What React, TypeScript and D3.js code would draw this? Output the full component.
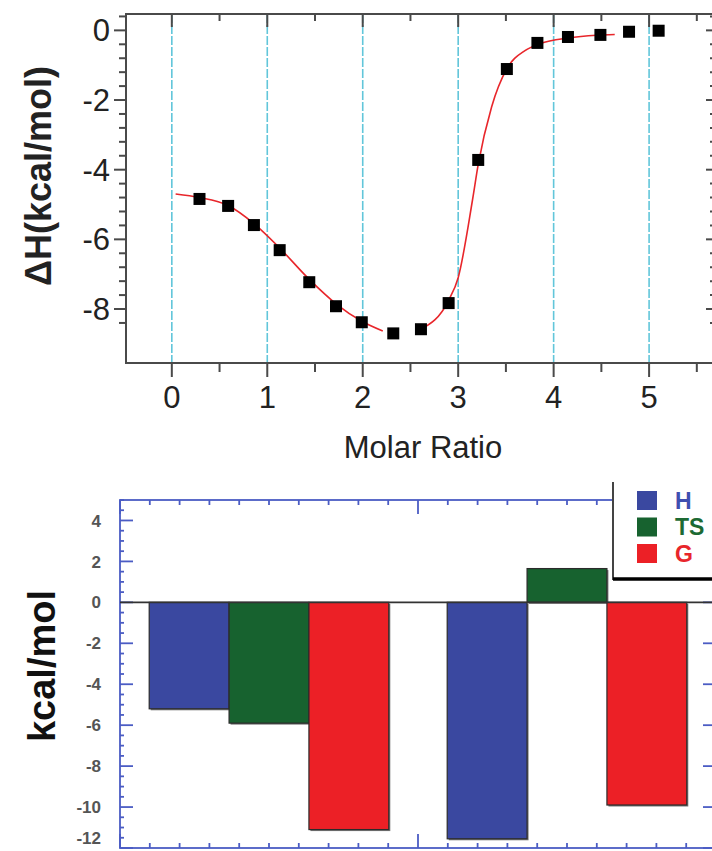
import React from "react";
import * as d3 from "d3";

// ---- Top panel: ITC data ----
const isoX = [0.29, 0.59, 0.86, 1.13, 1.44, 1.72, 1.99, 2.32, 2.61, 2.9, 3.21, 3.51, 3.83, 4.15, 4.49, 4.79, 5.1];
const isoY = [-4.84, -5.04, -5.59, -6.31, -7.23, -7.92, -8.38, -8.7, -8.58, -7.83, -3.72, -1.11, -0.36, -0.19, -0.13, -0.04, -0.01];
const fit1X = [0.04, 0.29, 0.59, 0.86, 1.13, 1.44, 1.72, 1.99, 2.21];
const fit1Y = [-4.7, -4.8, -5.03, -5.55, -6.25, -7.15, -7.85, -8.35, -8.63];
const fit2X = [2.61, 2.9, 3.0, 3.15, 3.21, 3.35, 3.51, 3.7, 3.86, 4.15, 4.45, 4.64];
const fit2Y = [-8.58, -7.75, -7.1, -4.87, -3.85, -2.2, -1.1, -0.58, -0.38, -0.22, -0.14, -0.12];
const topXTicks = [0, 1, 2, 3, 4, 5];
const topYTicks = [0, -2, -4, -6, -8];

// ---- Bottom panel: thermodynamic bars ----
const groupCenters = [0.5, 1.5];
const seriesNames = ["H", "TS", "G"];
const H = [-5.2, -11.55];
const TS = [-5.9, 1.65];
const G = [-11.1, -9.9];
const seriesColors = ["#3a48a0", "#17622f", "#ec2026"];
const legendTextColors = ["#3f4fb0", "#1d6a33", "#e8262b"];
const botYTicks = [4, 2, 0, -2, -4, -6, -8, -10, -12];

export default function App() {
  const W = 712, Hh = 851;
  // top scales
  const xT = d3.scaleLinear().domain([-0.48, 5.68]).range([126, 714]);
  const yT = d3.scaleLinear().domain([-9.55, 0.47]).range([363, 14]);
  const line = d3.line<number>().curve(d3.curveMonotoneX);
  const fit1 = line(fit1X.map((x, i) => [xT(x), yT(fit1Y[i])] as any) as any);
  const fit2 = line(fit2X.map((x, i) => [xT(x), yT(fit2Y[i])] as any) as any);

  const topMinorX = d3.range(-0.5, 5.7, 0.5).filter((v) => xT(v) >= 126 && xT(v) <= 712);
  const topMinorY = d3.range(0, 23).map((i) => 0.4 - i * 0.4).filter((v) => v <= 0.47 && v >= -9.55);

  // bottom scales
  const xB = d3.scaleLinear().domain([0, 2]).range([120, 716]);
  const yB = d3.scaleLinear().domain([-12, 5]).range([848, 500]);
  const barW = 0.268;
  const series = [H, TS, G];
  const botMinorX = d3.range(0, 21).map((i) => i * 0.1);
  const botMinorY = d3.range(0, 35).map((i) => -12 + i * 0.5).filter((v) => v <= 5);
  const axisBlue = "#4b5cc4";

  return (
    <svg width={W} height={Hh} style={{ position: "absolute", left: 0, top: 0, background: "#fff" }} fontFamily="Arial, 'Liberation Sans', Helvetica, sans-serif">
      {/* ===== TOP PANEL ===== */}
      {topXTicks.map((t) => (
        <line key={"g" + t} x1={xT(t)} x2={xT(t)} y1={14} y2={363} stroke="#62c6da" strokeWidth={1.6} strokeDasharray="9,2" />
      ))}
      {/* frame */}
      <rect x={126} y={14} width={716 - 126} height={363 - 14} fill="none" stroke="#4a4a4a" strokeWidth={2} />
      {/* x ticks */}
      {topMinorX.map((t) => {
        const major = Math.abs(t - Math.round(t)) < 1e-6;
        return (
          <g key={"xt" + t}>
            <line x1={xT(t)} x2={xT(t)} y1={363} y2={363 + (major ? 14 : 9)} stroke="#4a4a4a" strokeWidth={2} />
            <line x1={xT(t)} x2={xT(t)} y1={14} y2={14 + (major ? 13 : 7)} stroke="#4a4a4a" strokeWidth={2} />
          </g>
        );
      })}
      {topMinorY.map((t) => {
        const major = Math.abs(t / 2 - Math.round(t / 2)) < 1e-6;
        return (
          <g key={"yt" + t}>
            <line x1={126} x2={126 - (major ? 12 : 7)} y1={yT(t)} y2={yT(t)} stroke="#4a4a4a" strokeWidth={2} />
            <line x1={716} x2={716 - (major ? 10 : 6)} y1={yT(t)} y2={yT(t)} stroke="#4a4a4a" strokeWidth={2} />
          </g>
        );
      })}
      {topXTicks.map((t) => (
        <text key={"xl" + t} x={xT(t)} y={408} textAnchor="middle" fontSize={31} fill="#222">{t}</text>
      ))}
      {topYTicks.map((t) => (
        <text key={"yl" + t} x={110} y={yT(t)} dy="0.35em" textAnchor="end" fontSize={31} fill="#222">{t}</text>
      ))}
      <text x={423} y={458} textAnchor="middle" fontSize={31} fill="#222">Molar Ratio</text>
      <text transform="translate(51,176) rotate(-90)" textAnchor="middle" fontSize={36} fontWeight="bold" fill="#222">ΔH(kcal/mol)</text>
      {/* fit */}
      <path d={fit1 || ""} fill="none" stroke="#e8262b" strokeWidth={1.6} />
      <path d={fit2 || ""} fill="none" stroke="#e8262b" strokeWidth={1.6} />
      {isoX.map((x, i) => (
        <rect key={"p" + i} x={xT(x) - 6} y={yT(isoY[i]) - 6} width={12} height={12} fill="#000" />
      ))}

      {/* ===== BOTTOM PANEL ===== */}
      <rect x={120} y={500} width={716 - 120} height={848 - 500} fill="none" stroke={axisBlue} strokeWidth={1.8} />
      {botMinorX.map((t, i) => {
        const major = i % 10 === 0;
        return (
          <g key={"bx" + i}>
            <line x1={xB(t)} x2={xB(t)} y1={500} y2={500 + (major ? 14 : 5)} stroke={axisBlue} strokeWidth={1.8} />
            <line x1={xB(t)} x2={xB(t)} y1={848} y2={848 - (major ? 14 : 5)} stroke={axisBlue} strokeWidth={1.8} />
          </g>
        );
      })}
      {botMinorY.map((t, i) => {
        const major = Math.abs(t / 2 - Math.round(t / 2)) < 1e-6;
        return (
          <g key={"by" + i}>
            <line x1={120} x2={120 + (major ? 13 : 4)} y1={yB(t)} y2={yB(t)} stroke={axisBlue} strokeWidth={1.8} />
            <line x1={716} x2={716 - (major ? 13 : 4)} y1={yB(t)} y2={yB(t)} stroke={axisBlue} strokeWidth={1.8} />
          </g>
        );
      })}
      {botYTicks.map((t) => (
        <text key={"bl" + t} x={101} y={Math.min(yB(t), 838)} dy="0.36em" textAnchor="end" fontSize={17} fontWeight="bold" fill="#555">{t}</text>
      ))}
      <text transform="translate(55,666) rotate(-90)" textAnchor="middle" fontSize={38} fontWeight="bold" fill="#111">kcal/mol</text>
      {/* bars */}
      {groupCenters.map((c, gi) =>
        series.map((s, si) => {
          const x0 = xB(c + (si - 1.5) * barW);
          const x1 = xB(c + (si - 0.5) * barW);
          const v = s[gi];
          const yTop = Math.min(yB(v), yB(0));
          const hgt = Math.abs(yB(v) - yB(0));
          return (
            <g key={"b" + gi + si}>
              <rect x={x0 + 1.5} y={yTop + 1.5} width={x1 - x0} height={hgt} fill="#777" />
              <rect x={x0} y={yTop} width={x1 - x0} height={hgt} fill={seriesColors[si]} stroke="#2b2b2b" strokeWidth={1.2} />
            </g>
          );
        })
      )}
      <line x1={120} x2={716} y1={yB(0)} y2={yB(0)} stroke="#333" strokeWidth={1.6} />
      {/* legend */}
      <rect x={613} y={482} width={110} height={96} fill="#fff" />
      <line x1={613} x2={613} y1={482} y2={580} stroke="#444" strokeWidth={2} />
      <line x1={613} x2={716} y1={579} y2={579} stroke="#000" strokeWidth={3.5} />
      {seriesNames.map((n, i) => (
        <g key={"lg" + n}>
          <rect x={637} y={491 + i * 26.5} width={20} height={19} fill={seriesColors[i]} />
          <text x={675} y={500.5 + i * 26.5} dy="0.36em" fontSize={23} fontWeight="bold" fill={legendTextColors[i]}>{n}</text>
        </g>
      ))}
    </svg>
  );
}
